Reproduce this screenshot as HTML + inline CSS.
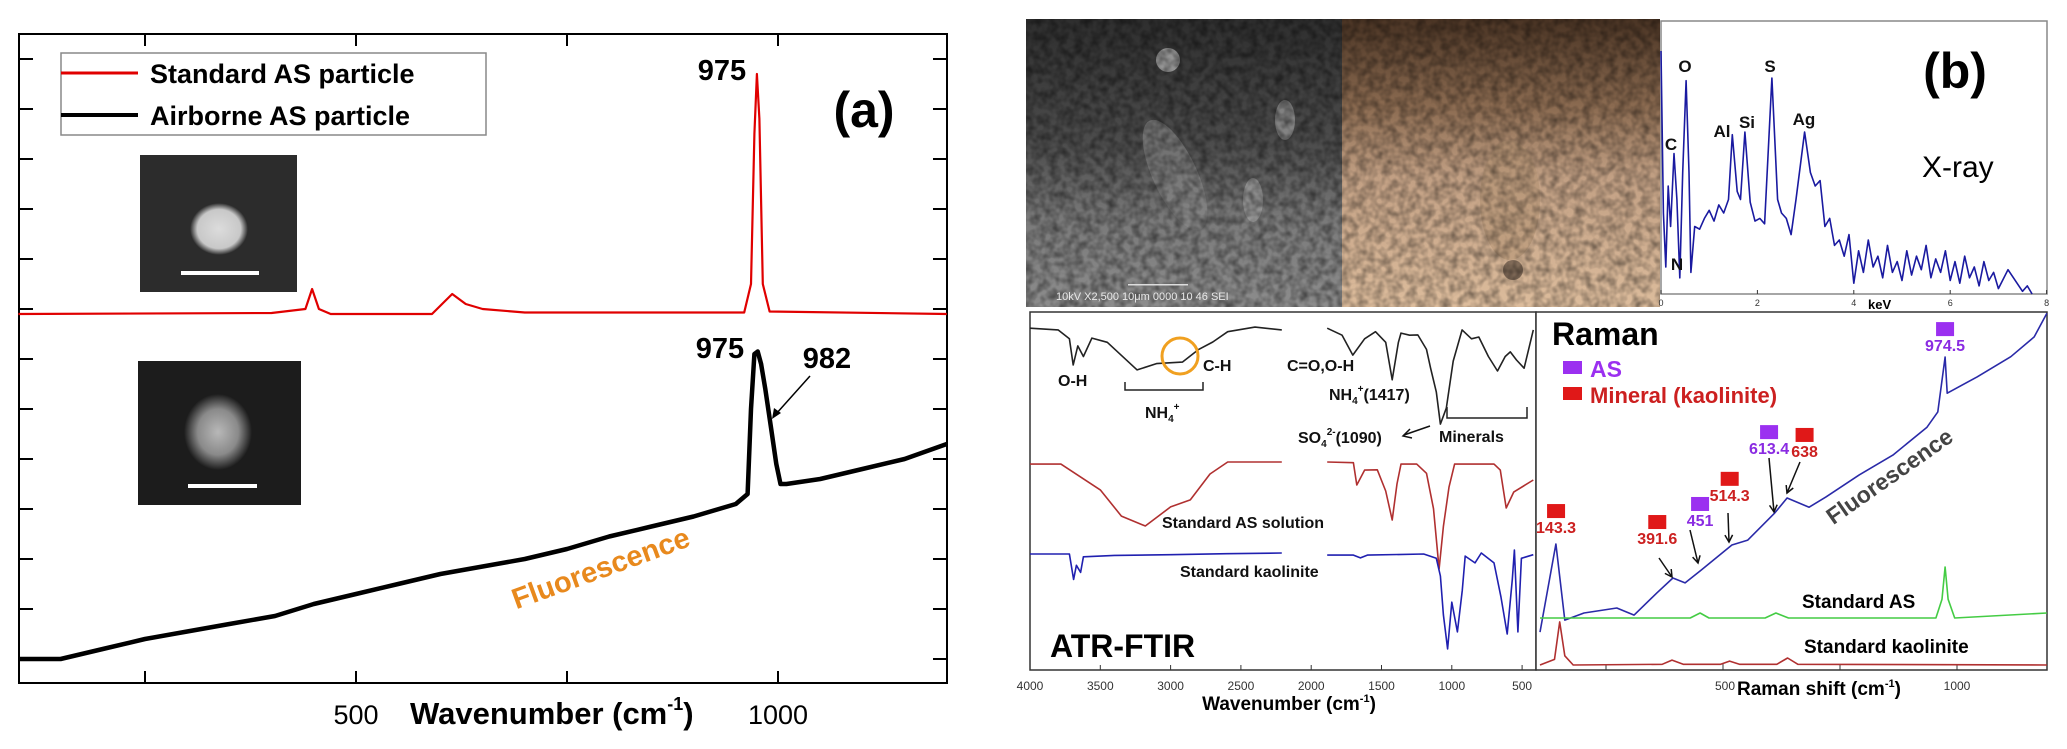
<!DOCTYPE html>
<html><head><meta charset="utf-8"><style>
html,body{margin:0;padding:0;background:#fff;}
svg{display:block;font-family:"Liberation Sans",sans-serif;}
</style></head><body>
<svg id="fig" width="2067" height="749" viewBox="0 0 2067 749" xmlns="http://www.w3.org/2000/svg">
<defs>
<radialGradient id="p1" cx="50%" cy="50%" r="50%"><stop offset="0" stop-color="#dcdcdc"/><stop offset="0.75" stop-color="#c8c8c8"/><stop offset="1" stop-color="#2a2a2a"/></radialGradient>
<radialGradient id="p2" cx="50%" cy="50%" r="50%"><stop offset="0" stop-color="#b8b8b8"/><stop offset="0.6" stop-color="#8a8a8a"/><stop offset="1" stop-color="#1c1c1c"/></radialGradient>
<linearGradient id="sem" x1="0" y1="0" x2="0" y2="1"><stop offset="0" stop-color="#2e2e2e"/><stop offset="0.45" stop-color="#4e4e4e"/><stop offset="0.7" stop-color="#7a7a7a"/><stop offset="1" stop-color="#8c8c8c"/></linearGradient>
<linearGradient id="opt" x1="0" y1="0" x2="0" y2="1"><stop offset="0" stop-color="#4a3424"/><stop offset="0.3" stop-color="#8a6a50"/><stop offset="0.55" stop-color="#c2a084"/><stop offset="1" stop-color="#dcbc9c"/></linearGradient>
<filter id="tex" x="0" y="0" width="100%" height="100%">
<feTurbulence type="fractalNoise" baseFrequency="0.12" numOctaves="2" seed="3" result="n"/>
<feColorMatrix in="n" type="matrix" values="0 0 0 0 0  0 0 0 0 0  0 0 0 0 0  0 0 0 -1.6 1.1" result="a"/>
<feComposite in="a" in2="SourceGraphic" operator="in"/>
</filter>
</defs>

<!-- Panel (a) -->
<g>
<rect x="19" y="34" width="928" height="649" fill="none" stroke="#000" stroke-width="2"/>
<g id="aTicks"></g>
<text x="356" y="724" font-size="27" text-anchor="middle">500</text>
<text x="778" y="724" font-size="27" text-anchor="middle">1000</text>
<text x="410" y="724" font-size="31" font-weight="bold">Wavenumber (cm<tspan font-size="18" dy="-14">-1</tspan><tspan dy="14">)</tspan></text>
<g>
<rect x="140" y="155" width="157" height="137" fill="#2c2c2c"/>
<ellipse cx="219" cy="229" rx="29" ry="26" fill="url(#p1)"/>
<rect x="181" y="271" width="78" height="4" fill="#fff"/>
</g>
<g>
<rect x="138" y="361" width="163" height="144" fill="#1c1c1c"/>
<ellipse cx="218" cy="432" rx="34" ry="38" fill="url(#p2)"/>
<rect x="188" y="484" width="69" height="4" fill="#fff"/>
</g>
<g id="aSeries"></g>
<g>
<rect x="61" y="53" width="425" height="82" fill="#fff" stroke="#888" stroke-width="1.5"/>
<line x1="61" y1="73" x2="138" y2="73" stroke="#e00000" stroke-width="3"/>
<text x="150" y="83" font-size="27" font-weight="bold">Standard AS particle</text>
<line x1="61" y1="115" x2="138" y2="115" stroke="#000" stroke-width="4"/>
<text x="150" y="125" font-size="27" font-weight="bold">Airborne AS particle</text>
</g>
<text x="722" y="80" font-size="29" font-weight="bold" text-anchor="middle">975</text>
<text x="720" y="358" font-size="29" font-weight="bold" text-anchor="middle">975</text>
<text x="827" y="368" font-size="29" font-weight="bold" text-anchor="middle">982</text>
<line x1="810" y1="376" x2="776" y2="414" stroke="#000" stroke-width="1.5"/>
<polygon points="772,419 774,408 781,413" fill="#000"/>
<text x="864" y="127" font-size="50" font-weight="bold" text-anchor="middle">(a)</text>
<text x="601" y="578" font-size="29" font-weight="bold" fill="#e8891d" text-anchor="middle" transform="rotate(-20 601 569)">Fluorescence</text>
</g>

<!-- Panel (b) -->
<g>
<g>
<rect x="1026" y="19" width="316" height="288" fill="url(#sem)"/>
<ellipse cx="1175" cy="175" rx="22" ry="60" fill="#8a8a8a" opacity="0.6" transform="rotate(-25 1175 175)"/>
<ellipse cx="1168" cy="60" rx="12" ry="12" fill="#bbb" opacity="0.7"/>
<ellipse cx="1285" cy="120" rx="10" ry="20" fill="#aaa" opacity="0.6"/>
<ellipse cx="1253" cy="200" rx="10" ry="22" fill="#aaa" opacity="0.6"/>
<rect x="1026" y="19" width="316" height="288" fill="#000" filter="url(#tex)" opacity="0.5"/>
<rect x="1128" y="284" width="60" height="1.5" fill="#ddd"/>
<text x="1056" y="300" font-size="11" fill="#e8e8e8">10kV   X2,500   10μm   0000   10 46 SEI</text>
</g>
<g>
<rect x="1342" y="19" width="318" height="288" fill="url(#opt)"/>
<ellipse cx="1510" cy="200" rx="30" ry="60" fill="#b09070" opacity="0.5"/>
<circle cx="1513" cy="270" r="10" fill="#4a3a30" opacity="0.6"/>
<rect x="1342" y="19" width="318" height="288" fill="#3a2818" filter="url(#tex)" opacity="0.45"/>
</g>
<g>
<rect x="1661" y="21" width="386" height="273" fill="#fff" stroke="#888" stroke-width="1.5"/>
<g id="edxSeries"></g>
<g id="edxTicks" font-size="9" fill="#333" text-anchor="middle"></g>
<text x="1868" y="309" font-size="13" font-weight="bold">keV</text>
<g font-size="17" font-weight="bold" fill="#111" text-anchor="middle">
<text x="1685" y="72">O</text>
<text x="1770" y="72">S</text>
<text x="1722" y="137">Al</text>
<text x="1747" y="128">Si</text>
<text x="1804" y="125">Ag</text>
<text x="1671" y="150">C</text>
<text x="1677" y="270">N</text>
</g>
<text x="1955" y="88" font-size="50" font-weight="bold" text-anchor="middle">(b)</text>
<text x="1922" y="177" font-size="30">X-ray</text>
</g>

<!-- ATR-FTIR -->
<g>
<rect x="1030" y="312" width="506" height="358" fill="#fff" stroke="#333" stroke-width="1.5"/>
<g id="ftirSeries"></g>
<g id="ftirTicks" font-size="12" fill="#333" text-anchor="middle"></g>
<text x="1289" y="710" font-size="19" font-weight="bold" text-anchor="middle">Wavenumber (cm<tspan font-size="11" dy="-8">-1</tspan><tspan dy="8">)</tspan></text>
<g font-size="16" font-weight="bold" fill="#111">
<text x="1058" y="386">O-H</text>
<text x="1203" y="371">C-H</text>
<text x="1145" y="418">NH<tspan font-size="10" dy="4">4</tspan><tspan font-size="10" dy="-12">+</tspan></text>
<text x="1287" y="371">C=O,O-H</text>
<text x="1329" y="400">NH<tspan font-size="10" dy="4">4</tspan><tspan font-size="10" dy="-12">+</tspan><tspan dy="8">(1417)</tspan></text>
<text x="1298" y="443">SO<tspan font-size="10" dy="4">4</tspan><tspan font-size="10" dy="-12">2-</tspan><tspan dy="8">(1090)</tspan></text>
<text x="1439" y="442">Minerals</text>
<text x="1162" y="528">Standard AS solution</text>
<text x="1180" y="577">Standard kaolinite</text>
</g>
<text x="1050" y="657" font-size="32" font-weight="bold">ATR-FTIR</text>
<path d="M1125 382 V390 H1203 V382" fill="none" stroke="#222" stroke-width="1.5"/>
<path d="M1447 407 V418 H1527 V407" fill="none" stroke="#222" stroke-width="1.5"/>
<line x1="1430" y1="426" x2="1404" y2="435" stroke="#111" stroke-width="1.5"/>
<path d="M1410 429 L1403 436 L1412 438" fill="none" stroke="#111" stroke-width="1.5"/>
<circle cx="1180" cy="356" r="18" fill="none" stroke="#f0a020" stroke-width="3"/>
</g>

<!-- Raman -->
<g>
<rect x="1536" y="312" width="511" height="358" fill="#fff" stroke="#333" stroke-width="1.5"/>
<g id="ramanTicks"></g>
<g id="ramanSeries"></g>
<text x="1725" y="690" font-size="12" text-anchor="middle" fill="#333">500</text>
<text x="1957" y="690" font-size="12" text-anchor="middle" fill="#333">1000</text>
<text x="1737" y="695" font-size="19" font-weight="bold">Raman shift (cm<tspan font-size="11" dy="-8">-1</tspan><tspan dy="8">)</tspan></text>
<text x="1552" y="345" font-size="32" font-weight="bold">Raman</text>
<rect x="1563" y="361" width="19" height="13" fill="#9b30f0"/>
<text x="1590" y="377" font-size="23" font-weight="bold" fill="#9b30f0">AS</text>
<rect x="1563" y="387" width="19" height="13" fill="#e01818"/>
<text x="1590" y="403" font-size="22" font-weight="bold" fill="#cc2020">Mineral (kaolinite)</text>
<g id="ramanMarks"></g>
<text x="1890" y="484" font-size="23" font-weight="bold" fill="#444" text-anchor="middle" transform="rotate(-35 1890 477)">Fluorescence</text>
<text x="1802" y="608" font-size="19" font-weight="bold">Standard AS</text>
<text x="1804" y="653" font-size="19" font-weight="bold">Standard kaolinite</text>
</g>
</g>
</svg>
<script>
// ---- Panel (a) data ----
const aRedW = [100,400,440,448,456,470,590,605,614,630,650,700,960,968,972,975,978,982,990,1200];
const aRedI = [6.9,6.92,7.0,7.4,7.0,6.9,6.9,7.15,7.3,7.1,7.0,6.93,6.93,7.5,10.5,11.7,10.8,7.5,6.95,6.9];
const aBlkW = [100,150,200,250,300,350,404,450,500,550,600,650,700,750,800,850,900,950,964,968,972,976,980,985,992,998,1003,1010,1050,1100,1150,1200];
const aBlkI = [0.0,0.0,0.2,0.4,0.55,0.7,0.86,1.1,1.3,1.5,1.7,1.85,2.0,2.2,2.45,2.65,2.85,3.1,3.3,5.0,6.1,6.15,5.9,5.4,4.6,3.9,3.5,3.5,3.6,3.8,4.0,4.3];
const aXTicks = [250,500,750,1000];
const aYTicks = [0,1,2,3,4,5,6,7,8,9,10,11,12];
// ---- EDX data ----
const edxK = [0,0.05,0.1,0.15,0.2,0.27,0.33,0.39,0.45,0.52,0.58,0.62,0.7,0.8,0.9,1.0,1.1,1.2,1.3,1.4,1.48,1.58,1.65,1.74,1.85,1.95,2.05,2.15,2.3,2.42,2.5,2.6,2.7,2.8,2.98,3.1,3.2,3.3,3.4,3.5,3.6,3.7,3.8,3.9,4.0,4.1,4.2,4.3,4.4,4.5,4.6,4.7,4.8,4.9,5.0,5.1,5.2,5.3,5.4,5.5,5.6,5.7,5.8,5.9,6.0,6.1,6.2,6.3,6.4,6.5,6.6,6.7,6.8,6.9,7.0,7.2,7.5,7.6,7.7];
const edxC = [90,30,10,40,25,52,35,6,45,79,45,8,25,24,28,31,27,33,30,35,59,38,35,60,34,27,28,26,80,35,30,28,22,35,60,45,40,42,25,28,18,20,14,22,4,16,8,20,10,14,6,18,8,12,5,16,7,14,9,18,6,13,8,16,5,12,4,14,6,10,3,12,5,8,2,9,1,3,0];
const edxTicks = [0,2,4,6,8];
// ---- FTIR data ----
const ftBlkLW = [4000,3800,3720,3693,3660,3620,3560,3450,3238,3100,2916,2800,2700,2594,2400,2209];
const ftBlkLI = [96,95.5,93,85.6,91,88,93.2,92,84.2,86,86.4,90,92.1,95,96.3,95.5];
const ftBlkRW = [1886,1780,1704,1620,1543,1470,1424,1380,1361,1300,1242,1180,1151,1110,1081,1039,990,927,860,808,740,675,620,584,540,486,420];
const ftBlkRI = [96,94,88.4,93,95,92,81.4,92,94.6,94,94.1,90,84.7,78,68.9,73.4,86.7,95.5,93,93.5,88,83.9,88,89.3,87,84.7,95.5];
const ftRedLW = [4000,3780,3500,3350,3180,3000,2860,2720,2594,2209];
const ftRedLI = [57.6,57.6,50.3,42.9,40.1,45.5,47.5,54.8,58.2,58.2];
const ftRedRW = [1886,1700,1676,1620,1530,1470,1424,1390,1361,1250,1180,1130,1090,1060,1020,980,700,655,613,560,420];
const ftRedRI = [58.2,58,51.7,55.9,56,50,41.8,52,57.6,57.6,55,45,28.0,40,51.1,57.6,57.6,55.9,45.2,49.7,53.1];
const ftBluLW = [4000,3720,3690,3670,3640,3620,3400,3000,2600,2209];
const ftBluLI = [32.2,32.2,25,29,27,31.4,31.8,32,32.3,32.5];
const ftBluRW = [1886,1700,1650,1600,1200,1110,1081,1060,1030,1000,960,925,905,835,790,700,650,606,570,555,530,505,420];
const ftBluRI = [31.9,31.9,31.1,31.9,32.2,31,26.0,15,5.4,18.6,10.2,22,31.6,29.7,32.5,29.7,20,9.6,25,33.3,10.2,31,32];
const ftTicks = [4000,3500,3000,2500,2000,1500,1000,500];
// ---- Raman data ----
const rBluW = [109,143,162,203,273,310,359,393,419,453,519,553,611,637,684,720,791,863,936,959,974.5,979,1043,1115,1165,1192];
const rBluI = [10.7,35.6,14.1,16.1,17.5,15.5,21.8,26.0,24.6,28.2,35.3,36.7,44.4,48.6,46.0,48.9,55.1,60.7,68.6,72.9,88.4,78.2,82.8,88.5,94.1,100.8];
const rGrnW = [109,430,451,470,590,613,640,955,968,974.5,981,995,1192];
const rGrnI = [14.7,14.7,16.1,14.7,14.7,16.1,14.7,14.7,20,29.1,20,14.7,16.1];
const rRedW = [109,140,151,162,180,370,391,415,495,514,535,615,638,660,1192];
const rRedI = [1.4,3,13.6,4,1.4,1.6,2.8,1.6,1.6,2.5,1.6,1.6,3.4,1.6,1.4];
const rMarkW = [143.3,391.6,451,514.3,613.4,638,974.5];
const rMarkLabels = ["143.3","391.6","451","514.3","613.4","638","974.5"];
const rMarkType = ["mineral","mineral","as","mineral","as","mineral","as"];
const rMarkLevel = [44.9,41.8,46.9,54.0,67.2,66.4,96.3];
const rTicks = [250,500,750,1000];
// layout-only label shifts (px) to avoid overlap
const rMarkShift = [0,-15,0,0,-7,17,0];

const NS = "http://www.w3.org/2000/svg";
const ax = v => 356 + (v - 500) * 0.844;
const ay = v => 659 - 50 * v;
const ex = k => 1661 + 48.2 * k;
const ey = v => 294 - 2.7 * v;
const fx = w => 1030 + (4000 - w) * 0.1406;
const fy = v => 668 - 3.54 * v;
const rx = v => 1723 + (v - 500) * 0.468;
const ry = v => 670 - 3.54 * v;

function mk(tag, attrs, parent) {
  const el = document.createElementNS(NS, tag);
  for (const k in attrs) el.setAttribute(k, attrs[k]);
  parent.appendChild(el);
  return el;
}
function poly(xs, ys, sx, sy, color, w, parent) {
  const pts = xs.map((x, i) => sx(x).toFixed(1) + "," + sy(ys[i]).toFixed(1)).join(" ");
  return mk("polyline", {points: pts, fill: "none", stroke: color, "stroke-width": w, "stroke-linejoin": "round"}, parent);
}

// Panel a ticks
const aT = document.getElementById("aTicks");
aXTicks.forEach(t => {
  const l1 = mk("line", {x1: ax(t), x2: ax(t), y1: 683, y2: 671, stroke: "#000", "stroke-width": 2}, aT);
  
  
  const l2 = mk("line", {x1: ax(t), x2: ax(t), y1: 34, y2: 46, stroke: "#000", "stroke-width": 2}, aT);
  
  
});
aYTicks.forEach(t => {
  const l1 = mk("line", {x1: 19, x2: 33, y1: ay(t), y2: ay(t), stroke: "#000", "stroke-width": 2}, aT);
  
  
  const l2 = mk("line", {x1: 933, x2: 947, y1: ay(t), y2: ay(t), stroke: "#000", "stroke-width": 2}, aT);
  
  
});
const aS = document.getElementById("aSeries");
const redA = poly(aRedW, aRedI, ax, ay, "#e00000", 2.2, aS);


const blkA = poly(aBlkW, aBlkI, ax, ay, "#000", 4.5, aS);



// EDX
const eS = document.getElementById("edxSeries");
const edxLine = poly(edxK, edxC, ex, ey, "#1a1aa0", 1.6, eS);


const eT = document.getElementById("edxTicks");
edxTicks.forEach(t => {
  const tl = mk("line", {x1: ex(t), x2: ex(t), y1: 294, y2: 290, stroke: "#333"}, eT);
  
  
  const tx = mk("text", {x: ex(t), y: 306}, eT);
  tx.textContent = t;
  
  
});

// FTIR
const fS = document.getElementById("ftirSeries");
[[ftBlkLW, ftBlkLI, "#222", "ftir-airborne-left"], [ftBlkRW, ftBlkRI, "#222", "ftir-airborne-right"],
 [ftRedLW, ftRedLI, "#b03030", "ftir-as-solution-left"], [ftRedRW, ftRedRI, "#b03030", "ftir-as-solution-right"],
 [ftBluLW, ftBluLI, "#2020b0", "ftir-kaolinite-left"], [ftBluRW, ftBluRI, "#2020b0", "ftir-kaolinite-right"]].forEach(s => {
  const p = poly(s[0], s[1], fx, fy, s[2], 1.6, fS);
  
  
});
const fT = document.getElementById("ftirTicks");
ftTicks.forEach(t => {
  const tl = mk("line", {x1: fx(t), x2: fx(t), y1: 670, y2: 665, stroke: "#333"}, fT);
  
  
  const tx = mk("text", {x: fx(t), y: 690}, fT);
  tx.textContent = t;
  
  
});

// Raman
const rT = document.getElementById("ramanTicks");
rTicks.forEach(t => {
  const tl = mk("line", {x1: rx(t), x2: rx(t), y1: 670, y2: 664, stroke: "#333"}, rT);
  
  
});
const rS = document.getElementById("ramanSeries");
const rb = poly(rBluW, rBluI, rx, ry, "#2a2aa8", 1.6, rS);


const rg = poly(rGrnW, rGrnI, rx, ry, "#44cc44", 1.6, rS);


const rr = poly(rRedW, rRedI, rx, ry, "#b03030", 1.6, rS);



const rM = document.getElementById("ramanMarks");
rMarkW.forEach((w, i) => {
  const col = rMarkType[i] === "as" ? "#9b30f0" : "#e01818";
  const tcol = rMarkType[i] === "as" ? "#8a2be2" : "#cc2020";
  const cx = rx(w) + rMarkShift[i], cy = ry(rMarkLevel[i]);
  const sq = mk("rect", {x: cx - 9, y: cy - 7, width: 18, height: 14, fill: col}, rM);
  
  
  const tx = mk("text", {x: cx, y: cy + 22, "font-size": 16, "font-weight": "bold", fill: tcol, "text-anchor": "middle"}, rM);
  tx.textContent = rMarkLabels[i];
  
  
});
const arrows = [[1659,558,1672,577],[1690,530,1698,563],[1728,513,1729,542],[1769,458,1774,512],[1800,462,1787,493]];
arrows.forEach(a => {
  const l = mk("line", {x1: a[0], y1: a[1], x2: a[2], y2: a[3], stroke: "#111", "stroke-width": 1.5}, rM);
  
  
  const ang = Math.atan2(a[3] - a[1], a[2] - a[0]);
  const h = 8;
  const p = mk("polyline", {points: (a[2] - h*Math.cos(ang - 0.5)) + "," + (a[3] - h*Math.sin(ang - 0.5)) + " " + a[2] + "," + a[3] + " " + (a[2] - h*Math.cos(ang + 0.5)) + "," + (a[3] - h*Math.sin(ang + 0.5)), fill: "none", stroke: "#111", "stroke-width": 1.5}, rM);
  
  
});
</script>
</body></html>
